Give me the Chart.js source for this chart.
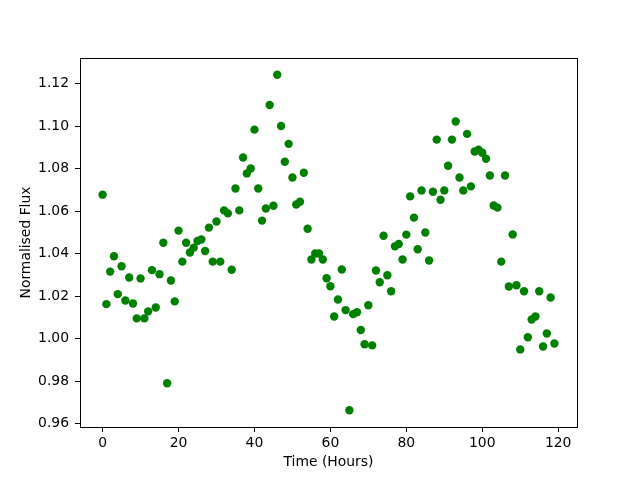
<!DOCTYPE html>
<html>
<head>
<meta charset="utf-8">
<script src="https://cdn.jsdelivr.net/npm/chart.js@4"></script>
<style>
  html, body { margin: 0; padding: 0; background: #fff; }
  canvas { display: block; }
</style>
</head>
<body>
<canvas id="fluxChart" width="640" height="480"></canvas>
<script>
// Light curve: normalised flux sampled once per hour
const hours = [
    0, 1, 2, 3, 4, 5, 6, 7, 8, 9, 10, 11, 12, 13, 14, 15, 16, 17, 18, 19,
    20, 21, 22, 23, 24, 25, 26, 27, 28, 29, 30, 31, 32, 33, 34, 35, 36, 37, 38, 39,
    40, 41, 42, 43, 44, 45, 46, 47, 48, 49, 50, 51, 52, 53, 54, 55, 56, 57, 58, 59,
    60, 61, 62, 63, 64, 65, 66, 67, 68, 69, 70, 71, 72, 73, 74, 75, 76, 77, 78, 79,
    80, 81, 82, 83, 84, 85, 86, 87, 88, 89, 90, 91, 92, 93, 94, 95, 96, 97, 98, 99,
    100, 101, 102, 103, 104, 105, 106, 107, 108, 109, 110, 111, 112, 113, 114, 115, 116, 117, 118, 119
];
const flux = [
    1.0678, 1.0163, 1.0316, 1.0388, 1.0210, 1.0341, 1.0180, 1.0288, 1.0166, 1.0096,
    1.0284, 1.0096, 1.0129, 1.0323, 1.0147, 1.0304, 1.0452, 0.9791, 1.0274, 1.0176,
    1.0509, 1.0363, 1.0452, 1.0406, 1.0429, 1.0460, 1.0467, 1.0413, 1.0523, 1.0363,
    1.0552, 1.0363, 1.0604, 1.0590, 1.0325, 1.0707, 1.0604, 1.0853, 1.0778, 1.0801,
    1.0984, 1.0707, 1.0556, 1.0613, 1.1100, 1.0626, 1.1242, 1.1001, 1.0833, 1.0917,
    1.0759, 1.0632, 1.0645, 1.0781, 1.0518, 1.0373, 1.0401, 1.0401, 1.0373, 1.0285,
    1.0247, 1.0105, 1.0185, 1.0326, 1.0135, 0.9664, 1.0116, 1.0125, 1.0041, 0.9974,
    1.0158, 0.9969, 1.0321, 1.0266, 1.0485, 1.0299, 1.0224, 1.0435, 1.0446, 1.0373,
    1.0490, 1.0670, 1.0570, 1.0421, 1.0698, 1.0500, 1.0368, 1.0692, 1.0937, 1.0654,
    1.0698, 1.0814, 1.0937, 1.1022, 1.0759, 1.0698, 1.0964, 1.0717, 1.0881, 1.0889,
    1.0875, 1.0847, 1.0768, 1.0627, 1.0617, 1.0363, 1.0768, 1.0246, 1.0491, 1.0252,
    0.9950, 1.0224, 1.0007, 1.0091, 1.0105, 1.0224, 0.9964, 1.0025, 1.0194, 0.9978
];
const xTicks = [0, 20, 40, 60, 80, 100, 120];
const yTicks = [0.96, 0.98, 1.00, 1.02, 1.04, 1.06, 1.08, 1.10, 1.12];

const FONT = { family: "'DejaVu Sans', sans-serif", size: 13.9 };

// full box around the plot, like matplotlib spines
const frame = {
    id: 'frame',
    afterDatasetsDraw(chart) {
        const { ctx, chartArea: a } = chart;
        ctx.save();
        ctx.strokeStyle = '#000';
        ctx.lineWidth = 1;
        ctx.strokeRect(Math.round(a.left) + 0.5, Math.round(a.top) + 0.5,
            Math.round(a.right - a.left), Math.round(a.bottom - a.top));
        ctx.restore();
    }
};

const axisCommon = {
    type: 'linear',
    border: { display: false },
    grid: {
        drawOnChartArea: false,
        drawTicks: true,
        tickLength: 5,
        color: '#000',
        tickColor: '#000',
        tickWidth: 1
    }
};

new Chart(document.getElementById('fluxChart').getContext('2d'), {
    type: 'scatter',
    data: {
        datasets: [{
            data: hours.map((h, i) => ({ x: h, y: flux[i] })),
            backgroundColor: '#008000',
            borderColor: '#008000',
            borderWidth: 0,
            pointRadius: 4.2,
            pointHoverRadius: 4.2
        }]
    },
    options: {
        responsive: false,
        animation: false,
        devicePixelRatio: 1,
        layout: { padding: { top: 58, right: 63, left: 0, bottom: 0 } },
        plugins: { legend: { display: false }, tooltip: { enabled: false } },
        scales: {
            x: {
                ...axisCommon,
                min: -5.95,
                max: 124.95,
                afterBuildTicks(scale) { scale.ticks = xTicks.map(v => ({ value: v })); },
                afterFit(scale) { scale.height = 53; },
                ticks: {
                    color: '#000', font: FONT, padding: 3,
                    autoSkip: false, maxRotation: 0,
                    callback: v => String(v)
                },
                title: {
                    display: true, text: 'Time (Hours)', color: '#000', font: FONT,
                    padding: { top: 0, bottom: 9 }
                }
            },
            y: {
                ...axisCommon,
                min: 0.9585,
                max: 1.1321,
                afterBuildTicks(scale) { scale.ticks = yTicks.map(v => ({ value: v })); },
                afterFit(scale) { scale.width = 80; },
                ticks: {
                    color: '#000', font: FONT, padding: 6,
                    autoSkip: false,
                    callback: v => v.toFixed(2)
                },
                title: {
                    display: true, text: 'Normalised Flux', color: '#000', font: FONT,
                    padding: { top: 18, bottom: 0 }
                }
            }
        }
    },
    plugins: [frame]
});
</script>
</body>
</html>
